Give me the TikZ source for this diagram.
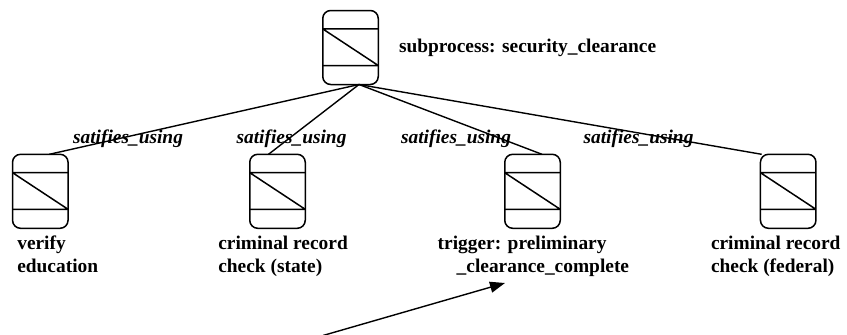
\documentclass[tikz,border=0pt]{standalone}
\usepackage{fontspec}
\setmainfont{Liberation Serif}
\usetikzlibrary{arrows.meta}
\begin{document}
\begin{tikzpicture}[x=1pt,y=-1pt,
  every node/.style={inner sep=0pt, outer sep=0pt},
  taskbox/.style={draw, line width=1.5pt, rounded corners=8pt,
    minimum width=55.5pt, minimum height=74pt,
    path picture={
      \draw[line width=1.5pt, sharp corners]
        ([yshift=-18.4pt]path picture bounding box.north west) coordinate (a)
          -- ([yshift=-18.4pt]path picture bounding box.north east)
        ([yshift=19pt]path picture bounding box.south west)
          -- ([yshift=19pt]path picture bounding box.south east) coordinate (b)
        (a) -- (b);}},
  caption/.style={font=\fontsize{19.4}{22.7}\selectfont\bfseries, align=left, anchor=north west},
  rel/.style={font=\fontsize{19.4}{22.7}\selectfont\bfseries\itshape, anchor=base},
  link/.style={line width=1.4pt}
]
\useasboundingbox (0,0) rectangle (847,335);

% process boxes
\node[taskbox] (top) at (350.5,47.5) {};
\node[taskbox] (edu) at (40.3,191.3) {};
\node[taskbox] (state) at (277.5,191.3) {};
\node[taskbox] (trig) at (532.5,191.3) {};
\node[taskbox] (fed) at (788.2,191.3) {};

% captions (first baseline = top + strut height)
\node[caption] (topcap) at (399,37.1) {\strut subprocess: security\_clearance};
\node[caption] (educap) at (17.3,234.1) {\strut verify\\education};
\node[caption] (statecap) at (218.3,234.1) {\strut criminal record\\check (state)};
\node[caption] (trigcap) at (437.7,234.1) {\strut trigger: preliminary\\\hspace*{19pt}\_clearance\_complete};
\node[caption] (fedcap) at (711,234.1) {\strut criminal record\\check (federal)};

% satisfaction links
\coordinate (hub) at (359,84.5);
\draw[link] (hub) -- ([xshift=9pt]edu.north);
\draw[link] (hub) -- ([xshift=-9pt]state.north);
\draw[link] (hub) -- ([xshift=9.5pt]trig.north);
\draw[link] (hub) -- ([xshift=-26.5pt]fed.north);

% link labels
\node[rel] (r1) at (128,143.3) {satifies\_using};
\node[rel] (r2) at (291.5,143.3) {satifies\_using};
\node[rel] (r3) at (456,143.3) {satifies\_using};
\node[rel] (r4) at (638.5,143.3) {satifies\_using};

% pointer to the trigger
\coordinate (tail) at (323,335.5);
\coordinate (tip) at (505,283);
\draw[link, -{Triangle[length=15pt,width=11pt]}] (tail) -- (tip);
\end{tikzpicture}
\end{document}
